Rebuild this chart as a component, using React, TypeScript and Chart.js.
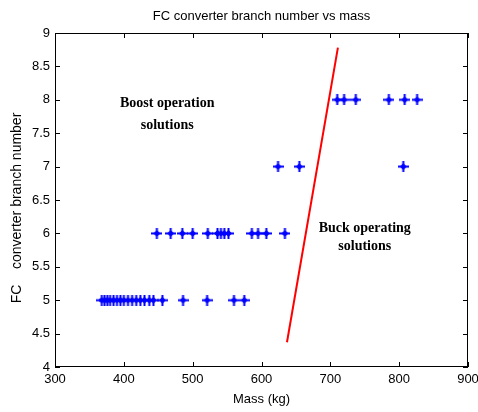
import React, { useEffect, useRef } from "react";
import Chart from "chart.js/auto";

const massRow5 = [368, 372, 376, 380, 385, 390, 395, 400, 406, 412, 418, 424, 430, 437, 443, 456, 486, 521, 560, 575];
const massRow6 = [448, 468, 485, 500, 522, 536, 541, 546, 552, 586, 595, 607, 634];
const massRow7 = [624, 655, 806];
const massRow8 = [710, 720, 737, 785, 808, 826];
const branchLevels = [5, 6, 7, 8];
const boundaryMass = [637, 711];
const boundaryBranch = [4.37, 8.78];
const xTicks = [300, 400, 500, 600, 700, 800, 900];
const yTicks = [4, 4.5, 5, 5.5, 6, 6.5, 7, 7.5, 8, 8.5, 9];

const titleText = "FC converter branch number vs mass";
const xTitle = "Mass (kg)";
const yTitle = "FC    converter branch number";
const boostLabel = ["Boost operation", "solutions"];
const buckLabel = ["Buck operating", "solutions"];

function makeMarker() {
  const c = document.createElement("canvas");
  c.width = 11; c.height = 11;
  const g = c.getContext("2d")!;
  g.fillStyle = "#0000ff";
  g.fillRect(4.5, 0, 2, 11);
  g.fillRect(0, 4.5, 11, 2);
  g.beginPath();
  g.moveTo(5.5, 2); g.lineTo(9, 5.5); g.lineTo(5.5, 9); g.lineTo(2, 5.5); g.closePath();
  g.fill();
  return c;
}

export default function App() {
  const ref = useRef<HTMLCanvasElement | null>(null);
  useEffect(() => {
    document.body.style.margin = "0";
    const rows = [massRow5, massRow6, massRow7, massRow8];
    const pts: { x: number; y: number }[] = [];
    rows.forEach((r, i) => r.forEach((m) => pts.push({ x: m, y: branchLevels[i] })));
    const line = boundaryMass.map((m, i) => ({ x: m, y: boundaryBranch[i] }));
    const font = "Liberation Sans, Arial, sans-serif";

    const deco = {
      id: "deco",
      afterDraw(chart: any) {
        const { ctx, chartArea: a, scales } = chart;
        const xs = scales.x, ys = scales.y;
        ctx.save();
        ctx.strokeStyle = "#000";
        ctx.lineWidth = 1;
        ctx.strokeRect(a.left + 0.5, a.top + 0.5, a.right - a.left - 1, a.bottom - a.top - 1);
        ctx.beginPath();
        xTicks.forEach((t) => {
          const px = Math.round(xs.getPixelForValue(t)) + 0.5;
          ctx.moveTo(px, a.bottom); ctx.lineTo(px, a.bottom - 5);
          ctx.moveTo(px, a.top); ctx.lineTo(px, a.top + 5);
        });
        yTicks.forEach((t) => {
          const py = Math.round(ys.getPixelForValue(t)) + 0.5;
          ctx.moveTo(a.left, py); ctx.lineTo(a.left + 5, py);
          ctx.moveTo(a.right, py); ctx.lineTo(a.right - 5, py);
        });
        ctx.stroke();
        ctx.fillStyle = "#000";
        ctx.textAlign = "center";
        ctx.textBaseline = "middle";
        ctx.font = "13px " + font;
        ctx.fillText(titleText, (a.left + a.right) / 2, 16);
        ctx.fillText(xTitle, (a.left + a.right) / 2, 399);
        ctx.save();
        ctx.translate(17, 208);
        ctx.rotate(-Math.PI / 2);
        ctx.font = "14px " + font;
        ctx.fillText(yTitle, 0, 0);
        ctx.restore();
        ctx.font = "bold 14px 'Liberation Serif', 'Times New Roman', serif";
        ctx.fillText(boostLabel[0], xs.getPixelForValue(463), ys.getPixelForValue(7.94));
        ctx.fillText(boostLabel[1], xs.getPixelForValue(463), ys.getPixelForValue(7.61));
        ctx.fillText(buckLabel[0], xs.getPixelForValue(750), ys.getPixelForValue(6.08));
        ctx.fillText(buckLabel[1], xs.getPixelForValue(750), ys.getPixelForValue(5.81));
        ctx.restore();
      },
    };

    const chart = new Chart(ref.current!, {
      type: "scatter",
      data: {
        datasets: [
          {
            data: pts,
            pointStyle: makeMarker() as any,
            radius: 5,
            borderWidth: 0,
            borderColor: "#0000ff",
            backgroundColor: "#0000ff",
          },
          {
            type: "line",
            data: line,
            borderColor: "#ff0000",
            borderWidth: 2,
            pointRadius: 0,
            showLine: true,
            fill: false,
          } as any,
        ],
      },
      options: {
        animation: false,
        responsive: false,
        events: [],
        layout: { padding: { top: 33, right: 10, left: 0, bottom: 0 } },
        plugins: { legend: { display: false }, tooltip: { enabled: false }, title: { display: false } },
        scales: {
          x: {
            type: "linear",
            min: 300,
            max: 900,
            grid: { display: false, drawTicks: false },
            border: { display: false },
            ticks: { stepSize: 100, autoSkip: false, maxRotation: 0, color: "#000", font: { size: 13, family: font }, padding: 5 },
            afterFit: (s: any) => { s.height = 45; s.paddingLeft = 0; s.paddingRight = 0; },
          },
          y: {
            type: "linear",
            min: 4,
            max: 9,
            grid: { display: false, drawTicks: false },
            border: { display: false },
            ticks: {
              stepSize: 0.5,
              autoSkip: false,
              color: "#000",
              font: { size: 13, family: font },
              padding: 5,
              callback: (v: any) => String(Number(v)),
            },
            afterFit: (s: any) => { s.width = 55; s.paddingTop = 0; s.paddingBottom = 0; },
          },
        },
      },
      plugins: [deco],
    });
    return () => chart.destroy();
  }, []);
  return <canvas ref={ref} width={478} height={412} style={{ display: "block" }} />;
}
